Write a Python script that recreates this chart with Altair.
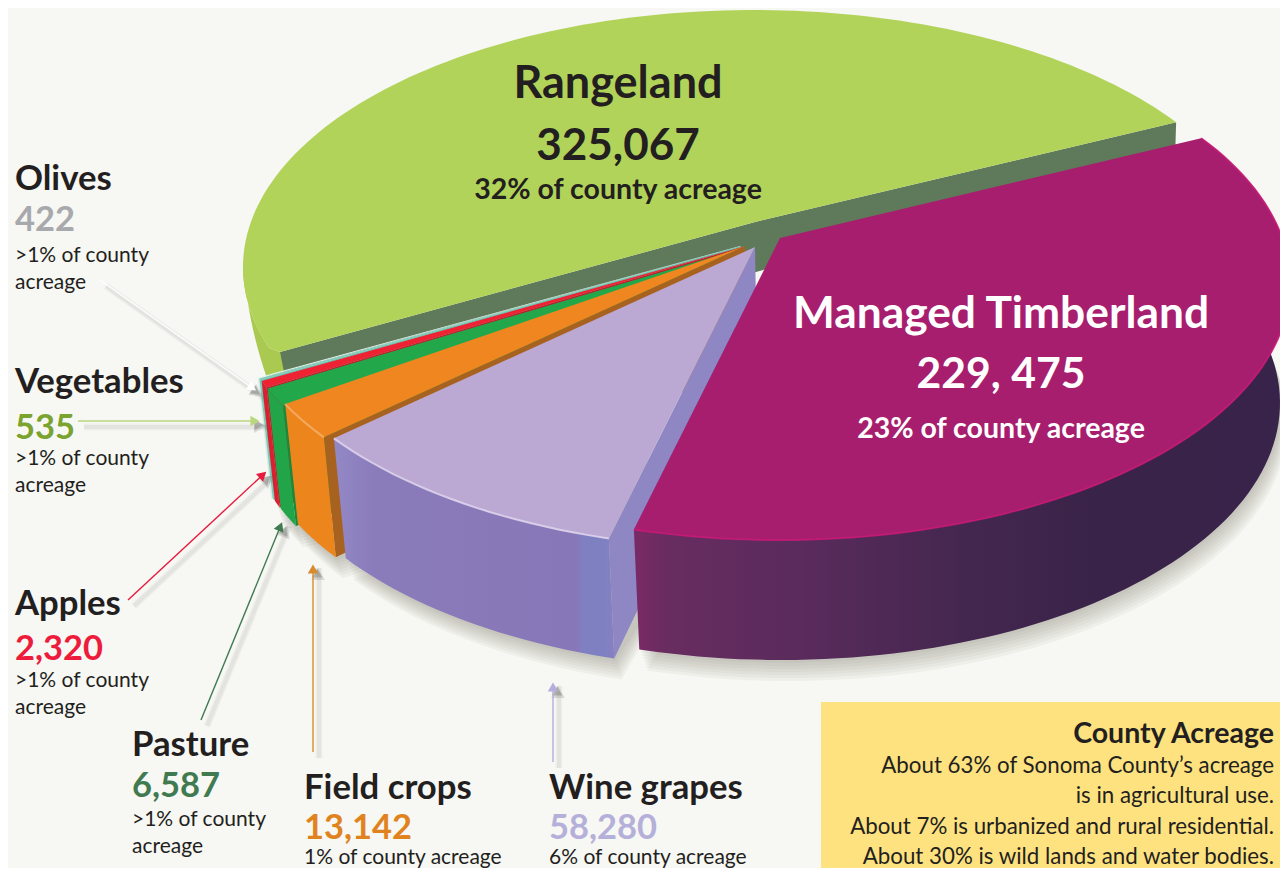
import math
import numpy as np
import pandas as pd
import altair as alt

# ---- values
categories = ["Rangeland", "Olives", "Vegetables", "Apples", "Pasture", "Field crops", "Wine grapes", "Managed Timberland"]
acres = [325067, 422, 535, 2320, 6587, 13142, 58280, 229475]
shares = ["32% of county acreage", ">1% of county acreage", ">1% of county acreage", ">1% of county acreage",
          ">1% of county acreage", "1% of county acreage", "6% of county acreage", "23% of county acreage"]

W, H = 1272, 860
sx = alt.Scale(domain=[8, 1280], nice=False, zero=False)
sy = alt.Scale(domain=[868, 8], nice=False, zero=False)
FONT = "Lato"
INK = "#231f20"

# ---- the tilted pie: an ellipse for the top face, another for the foot of the wall
HUB = (755, 222)
HUB_FOOT = (2, 115)


def to_t(a):
    """Pie angle (degrees of acreage share) to position round the drawn ellipse."""
    return np.interp(a, [0, 184, 230.05, 230.09, 360], [-34.3, -199.6, -252.8, -254.0, -394.3])


def top_pt(a, off=(0, 0)):
    t = math.radians(to_t(a))
    return (754 + 511 * math.cos(t) + off[0], 267 + 257 * math.sin(t) + off[1])


def foot_pt(a, off=(0, 0)):
    t = math.radians(to_t(a))
    return (756 + 499 * math.cos(t) + off[0], 387 + 257 * math.sin(t) + off[1])


def rim(f, a0, a1, off=(0, 0)):
    n = max(2, int(abs(a1 - a0) / 1.5) + 2)
    return [f(a, off) for a in np.linspace(a0, a1, n)]


def frame(points):
    return pd.DataFrame({"x": [p[0] for p in points], "y": [p[1] for p in points], "i": range(len(points))})


def enc(ch):
    return ch.encode(x=alt.X("x:Q", scale=sx, axis=None), y=alt.Y("y:Q", scale=sy, axis=None), order=alt.Order("i:Q"))


def poly(points, fill, opacity=1.0):
    pts = list(points) + [points[0]]
    return enc(alt.Chart(frame(pts)).mark_line(fill=fill, stroke="transparent", strokeWidth=0, opacity=opacity, clip=True))


def path(points, color, width=1.0, opacity=1.0):
    return enc(alt.Chart(frame(points)).mark_line(color=color, strokeWidth=width, opacity=opacity, clip=True))


def hgrad(*stops):
    return alt.Gradient(gradient="linear", x1=0, x2=1, y1=0, y2=0,
                        stops=[alt.GradientStop(color=c, offset=o) for o, c in stops])


def label(x, y, s, size, color=INK, bold=False, align="left"):
    return alt.Chart(pd.DataFrame({"x": [x], "y": [y], "t": [s]})).mark_text(
        font=FONT, fontSize=size, fontWeight="bold" if bold else "normal", color=color, align=align, baseline="alphabetic"
    ).encode(x=alt.X("x:Q", scale=sx, axis=None), y=alt.Y("y:Q", scale=sy, axis=None), text="t:N")


def head(p, color, ang, size, opacity=1.0):
    return alt.Chart(frame([p])).mark_point(shape="triangle-up", filled=True, color=color, opacity=opacity, size=size, angle=ang
                                            ).encode(x=alt.X("x:Q", scale=sx, axis=None), y=alt.Y("y:Q", scale=sy, axis=None))


def arrow(p0, p1, color):
    out = []
    for w, o in [(7, 0.05), (4, 0.07)]:
        out.append(path([(p0[0] + 6, p0[1] + 6), (p1[0] + 6, p1[1] + 6)], "#555555", w, o))
    dx, dy = p1[0] - p0[0], p1[1] - p0[1]
    L = math.hypot(dx, dy)
    tipc = (p1[0] - dx / L * 7, p1[1] - dy / L * 7)
    ang = math.degrees(math.atan2(dx, -dy)) % 360
    out.append(head((tipc[0] + 5, tipc[1] + 5), "#555555", ang, 190, 0.18))
    out.append(head((tipc[0] + 4, tipc[1] + 4), "#555555", ang, 110, 0.3))
    out.append(path([p0, tipc], color, 1.4))
    out.append(head(tipc, color, ang, 110))
    return out


# ---- slice angles from the acreage values
total = sum(acres)
angles, a = [], 0.0
for v in acres:
    angles.append((a, a + v / total * 360))
    a += v / total * 360

offsets = [(0, 0), (-15, 24), (-14, 24), (-13, 25), (-12, 26), (-10, 24), (0, 25), (25, 16)]
tops = ["#b2d359", "#e4f4ee", "#7fcbb8", "#ee2233", "#22a84b", "#ef8620", "#bba9d4", "#a81e6e"]
walls = ["#a9c950", "#d5ece3", "#6fc2b0", "#dc1f2e", "#22a448", "#ec851c", None, None]
cuts = [None, "#c9e4da", "#6fbfae", "#c01c2a", "#178a3a", "#a8621f", "#8f86c4", None]

layers = []

# soft shadow beneath the pie
for k in range(3, 22, 3):
    for s in range(3, 8):
        o = offsets[s]
        a0, a1 = angles[s]
        pts = rim(foot_pt, a0, a1, (o[0] + k * 0.35, o[1] + k)) + [(HUB[0] + o[0], HUB[1] + o[1] + 200)]
        layers.append(poly(pts, "#5a5a55", 0.05))

# rangeland: its cut faces, outer wall and top
a0, a1 = angles[0]
d1 = top_pt(a0)
d2 = (280, 352)
layers.append(poly([d1, HUB, d2, (d2[0] + 2, d2[1] + 50), (HUB[0] + 1, HUB[1] + 50), (d1[0] - 1, d1[1] + 33)], "#5f7a5a"))
left = rim(top_pt, 160, a1 - 1.5) + [d2]
drop = [(p[0] + 15 * i / (len(left) - 1), p[1] + 75 * i / (len(left) - 1)) for i, p in enumerate(left)]
layers.append(poly(left + drop[::-1], walls[0]))
layers.append(poly([HUB] + rim(top_pt, a0, a1 - 1.5) + [d2], tops[0]))

# remaining slices, back to front
for s in range(1, 8):
    a0, a1 = angles[s]
    o = offsets[s]
    c_t = (HUB[0] + o[0], HUB[1] + o[1])
    c_b = (c_t[0] + HUB_FOOT[0], c_t[1] + HUB_FOOT[1])
    if cuts[s]:
        layers.append(poly([top_pt(a1, o), c_t, c_b, foot_pt(a1, o)], cuts[s]))
    if s == 6:
        fill = hgrad((0, "#9388c6"), (0.15, "#8a7bba"), (0.86, "#8877b8"), (0.89, "#7f80c2"), (0.97, "#7f80c2"), (1, "#8a7fc0"))
    elif s == 7:
        fill = hgrad((0, "#7a2a66"), (0.05, "#682c60"), (0.25, "#5a2b5c"), (0.5, "#44274f"), (0.7, "#3a2348"), (1, "#38234a"))
    else:
        fill = walls[s]
    layers.append(poly(rim(top_pt, a0, a1, o) + rim(foot_pt, a1, a0, o), fill))
    layers.append(poly([c_t] + rim(top_pt, a0, a1, o), tops[s]))
    hi = {5: "#f6ad66", 6: "#ddd3ec", 7: "#c21a74"}.get(s)
    if hi:
        layers.append(path(rim(top_pt, a0, a1, o), hi, 2.0, 0.9))

# note box
box = alt.Chart(pd.DataFrame({"x": [821], "x2": [1280], "y": [702], "y2": [868]})).mark_rect(color="#fee27f").encode(
    x=alt.X("x:Q", scale=sx, axis=None), x2="x2:Q", y=alt.Y("y:Q", scale=sy, axis=None), y2="y2:Q")
layers.append(box)

# leaders
layers += arrow((100, 280), (258, 392), "#ffffff")
layers += arrow((78, 421), (262, 421), "#b9d77f")
layers += arrow((128, 600), (268, 470), "#e8193c")
layers += arrow((201, 720), (283, 520), "#3f7a50")
layers += arrow((313, 752), (313, 562), "#d98a2b")
layers += arrow((553, 762), (553, 680), "#b3aedb")

# in-pie labels
layers.append(label(618, 98, categories[0], 45, bold=True, align="center"))
layers.append(label(618, 160, f"{acres[0]:,}", 44, bold=True, align="center"))
layers.append(label(618, 199, shares[0], 28.5, bold=True, align="center"))
layers.append(label(1001, 328, categories[7], 44.3, "#ffffff", True, "center"))
layers.append(label(1001, 388, "229, 475", 42.7, "#ffffff", True, "center"))
layers.append(label(1001, 438, shares[7], 28.5, "#ffffff", True, "center"))

# side labels
small = [
    (15, 190, 231, 262, 289, 1, "#a7a9ac"),
    (15, 393, 439, 465, 492, 2, "#7aa32f"),
    (15, 615, 660, 687, 714, 3, "#ed1c3c"),
    (132, 756, 797, 826, 853, 4, "#3f7a50"),
]
for x, y1, y2, y3, y4, s, col in small:
    layers.append(label(x, y1, categories[s], 34.7, bold=True))
    layers.append(label(x, y2, f"{acres[s]:,}", 34.5, col, True))
    first, tail = shares[s].rsplit(" ", 1)
    layers.append(label(x, y3, first, 21))
    layers.append(label(x, y4, tail, 21))
for x, s, col in [(304, 5, "#e0831e"), (549, 6, "#b5b0d9")]:
    layers.append(label(x, 799, categories[s], 34.7, bold=True))
    layers.append(label(x, 839, f"{acres[s]:,}", 34.5, col, True))
    layers.append(label(x, 864, shares[s], 21))

# note box text
layers.append(label(1274, 743, "County Acreage", 28.5, bold=True, align="right"))
for y, s in zip([773, 803, 834, 864], ["About 63% of Sonoma County\u2019s acreage", "is in agricultural use.",
                                       "About 7% is urbanized  and rural residential.", "About 30% is wild lands and water bodies."]):
    layers.append(label(1274, y, s, 22.3, align="right"))

chart = alt.layer(*layers).properties(width=W, height=H, background="#f7f7f3", padding=0,
                                      autosize=alt.AutoSizeParams(type="none")
                                      ).configure_view(stroke=None)
chart.save("out.html", embed_options={"renderer": "svg", "actions": False})
